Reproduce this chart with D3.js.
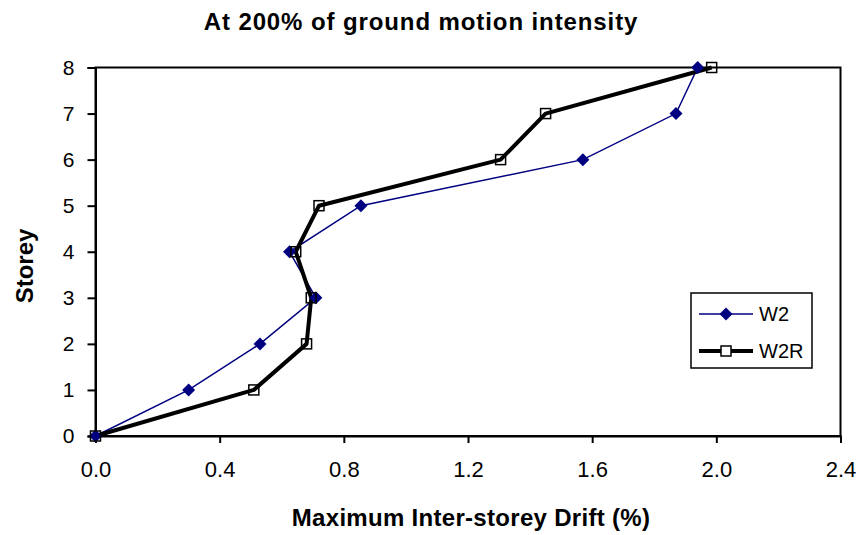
<!DOCTYPE html>
<html>
<head>
<meta charset="utf-8">
<script src="https://cdn.jsdelivr.net/npm/d3@7"></script>
<style>
  body { margin: 0; background: #fff; }
  text { font-family: Arial, "Liberation Sans", sans-serif; fill: #000; }
</style>
</head>
<body>
<svg id="chart" width="860" height="535"></svg>
<script>
// storey levels and drift (%) per series
var storeys = [0, 1, 2, 3, 4, 5, 6, 7, 8];
var w2 = [0.0, 0.30, 0.53, 0.71, 0.625, 0.855, 1.57, 1.87, 1.94];
var w2r = [0.0, 0.51, 0.68, 0.695, 0.645, 0.72, 1.305, 1.45, 1.985];
var xTicks = [0, 0.4, 0.8, 1.2, 1.6, 2.0, 2.4];
var yTicks = [0, 1, 2, 3, 4, 5, 6, 7, 8];

var margin = {top: 67.5, right: 19.5, bottom: 99, left: 95.5},
    width = 860 - margin.left - margin.right,
    height = 535 - margin.top - margin.bottom;

var svg = d3.select("#chart");
var g = svg.append("g")
    .attr("transform", "translate(" + margin.left + "," + margin.top + ")");

var x = d3.scaleLinear().domain([0, 2.4]).range([0, width]);
var y = d3.scaleLinear().domain([0, 8]).range([height, 0]);

// frame
g.append("rect")
    .attr("width", width).attr("height", height)
    .attr("fill", "none").attr("stroke", "#000").attr("stroke-width", 2);

var xAxis = g.append("g")
    .attr("transform", "translate(0," + height + ")")
    .call(d3.axisBottom(x).tickValues(xTicks).tickFormat(d3.format(".1f")).tickSize(7).tickPadding(18));
var yAxis = g.append("g")
    .call(d3.axisLeft(y).tickValues(yTicks).tickSize(8).tickPadding(13));

[xAxis, yAxis].forEach(a => {
    a.select(".domain").attr("stroke-width", 2);
    a.selectAll(".tick line").attr("stroke-width", 2);
    a.selectAll("text").attr("font-family", "Arial, 'Liberation Sans', sans-serif");
});
xAxis.selectAll("text").attr("font-size", 22);
yAxis.selectAll("text").attr("font-size", 21);

var line = d3.line().x(d => x(d[0])).y(d => y(d[1]));
var w2pts = w2.map((v, i) => [v, storeys[i]]);
var w2rpts = w2r.map((v, i) => [v, storeys[i]]);

g.append("path").datum(w2pts)
    .attr("d", line).attr("fill", "none")
    .attr("stroke", "#000080").attr("stroke-width", 1.5);
g.append("path").datum(w2rpts)
    .attr("d", line).attr("fill", "none")
    .attr("stroke", "#000").attr("stroke-width", 4).attr("stroke-linejoin", "round");

var diamond = "M0,-6.5L6.5,0L0,6.5L-6.5,0Z";
g.selectAll("path.dia").data(w2pts).enter()
    .append("path").attr("class", "dia")
    .attr("d", diamond)
    .attr("transform", d => "translate(" + x(d[0]) + "," + y(d[1]) + ")")
    .attr("fill", "#000080");
g.selectAll("rect.sq").data(w2rpts).enter()
    .append("rect").attr("class", "sq")
    .attr("x", d => x(d[0]) - 5).attr("y", d => y(d[1]) - 5)
    .attr("width", 10).attr("height", 10)
    .attr("fill", "none").attr("stroke", "#000").attr("stroke-width", 1.5);

// titles
svg.append("text")
    .attr("x", 421).attr("y", 30)
    .attr("text-anchor", "middle")
    .attr("font-size", 24).attr("font-weight", "bold")
    .attr("letter-spacing", 0.9)
    .text("At 200% of ground motion intensity");
svg.append("text")
    .attr("x", 471).attr("y", 526)
    .attr("text-anchor", "middle")
    .attr("font-size", 24).attr("font-weight", "bold")
    .attr("letter-spacing", 0.3)
    .text("Maximum Inter-storey Drift (%)");
svg.append("text")
    .attr("transform", "translate(33,266) rotate(-90)")
    .attr("text-anchor", "middle")
    .attr("font-size", 24).attr("font-weight", "bold")
    .text("Storey");

// legend
var lg = svg.append("g").attr("transform", "translate(691,293)");
lg.append("rect").attr("width", 121).attr("height", 75)
    .attr("fill", "#fff").attr("stroke", "#000").attr("stroke-width", 1.5);
var legendItems = [
    {name: "W2", color: "#000080", sw: 1.5, mark: "dia"},
    {name: "W2R", color: "#000", sw: 4, mark: "sq"}
];
legendItems.forEach(function(d, i) {
    var ly = 21 + i * 37;
    lg.append("line").attr("x1", 8).attr("x2", 62).attr("y1", ly).attr("y2", ly)
        .attr("stroke", d.color).attr("stroke-width", d.sw);
    if (d.mark === "dia") {
        lg.append("path").attr("d", diamond).attr("transform", "translate(35," + ly + ")").attr("fill", d.color);
    } else {
        lg.append("rect").attr("x", 30).attr("y", ly - 5).attr("width", 10).attr("height", 10)
            .attr("fill", "#fff").attr("stroke", "#000").attr("stroke-width", 1.5);
    }
    lg.append("text").attr("x", 68).attr("y", ly + 7)
        .attr("font-size", 20).text(d.name);
});
</script>
</body>
</html>
